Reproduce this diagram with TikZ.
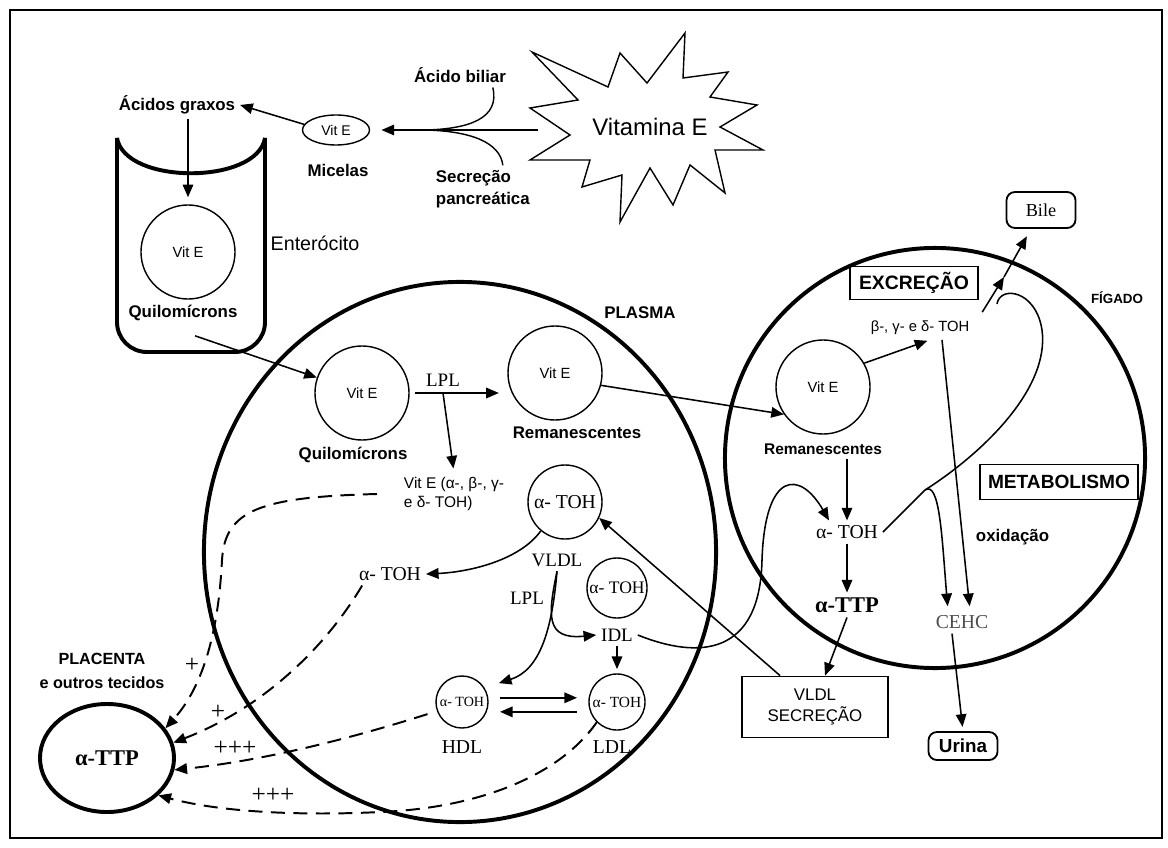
\documentclass[tikz,border=0pt]{standalone}
\usepackage{fontspec}
\setmainfont{Liberation Sans}
\newfontfamily\timesfont{Liberation Serif}
\usetikzlibrary{arrows.meta,positioning,shapes.geometric,calc}
\tikzset{
  arr/.style={-{Triangle[length=9pt,width=7.5pt]},line width=1.1pt,#1},
  arr/.default=black,
  dasharr/.style={-{Triangle[length=9pt,width=7.5pt]},line width=1.4pt,
                  dash pattern=on 10pt off 6pt},
  vesicle/.style={circle,draw,line width=1pt,minimum size=#1,inner sep=0pt,
                  font=\fontsize{10.5}{12}\selectfont},
  vesicle/.default=2.35cm,
  organ/.style={draw,line width=2.8pt,inner sep=0pt},
  tagbox/.style={rectangle,draw,line width=1.3pt,align=center},
}

\begin{document}
\begin{tikzpicture}[
        x=0.025cm, y=-0.025cm,
        bsans/.style={font=\bfseries\fontsize{12}{15.5}\selectfont},
        serif/.style={font=\timesfont\fontsize{13.5}{16}\selectfont},
        plus/.style={font=\timesfont\fontsize{18}{20}\selectfont}
      ]
        \useasboundingbox (0,0) rectangle (1168,847);
        \draw[line width=1.5pt] (10,10) rectangle (1162,838);

        % Plasma and liver
        \node[organ, ellipse, minimum width=12.8cm, minimum height=13.5cm] (plasma) at (460,552) {};
        \node[organ, circle, minimum size=10.5cm] (liver) at (935,458) {};

        % Vitamina E
        \draw[line width=1pt] (532,52) -- (608,87) -- (620,53) -- (647,83) -- (685,33)
          -- (683,78) -- (728,72) -- (710,97) -- (757,105) -- (720,127) -- (763,150)
          -- (715,150) -- (725,193) -- (690,165) -- (673,205) -- (650,168) -- (620,222)
          -- (622,175) -- (582,187) -- (590,160) -- (530,160) -- (570,135) -- (530,108)
          -- (578,100) -- cycle;
        \node[font=\fontsize{17}{20}\selectfont] (vitE) at (650,127) {Vitamina E};
        \coordinate (starW) at (538,130);
        \coordinate (merge) at (425,130);

        % Micelas
        \node[ellipse, draw, line width=1pt, minimum width=1.675cm, minimum height=0.75cm,
              inner sep=0pt, font=\fontsize{10}{12}\selectfont] (mic) at (336,130) {Vit E};
        \node[bsans] (miclbl) at (338,170) {Micelas};
        \draw[arr, shorten >=8pt] (starW) -- (mic.east);
        \node[bsans] (ab) at (460,75) {Ácido biliar};
        \node[bsans, align=left, anchor=west] (sp) at (431,189) {Secreção\\pancreática};
        \draw[line width=1pt] ([xshift=0.82cm]ab.south) .. controls (500,118) and (470,129) .. (merge);
        \draw[line width=1pt] ([xshift=0.5cm]sp.north) .. controls (500,142) and (470,131) .. (merge);

        % Enterocito
        \node[bsans] (ag) at (177,105) {Ácidos graxos};
        \draw[arr] (mic.170) -- (ag.east);
        \draw[organ, rounded corners=0.75cm] (117,138) -- (117,352) -- (265,352) -- (265,138);
        \draw[organ] (117,138) .. controls (125,185) and (257,185) .. (265,138);
        \node[vesicle] (entvit) at (188,252) {Vit E};
        \draw[arr, shorten >=5pt] (ag.south -| entvit.north) -- (entvit.north);
        \node[font=\fontsize{14}{16}\selectfont] (entlbl) at (315,243) {Enterócito};
        \node[bsans] (entq) at (183,313) {Quilomícrons};

        % Plasma content
        \node[bsans] (plasmalbl) at (640,313) {PLASMA};
        \node[vesicle] (qm) at (362,393) {Vit E};
        \node[bsans] (qmlbl) at (353,455) {Quilomícrons};
        \draw[arr] ([xshift=0.3cm,yshift=-0.25cm]entq.south) -- (qm);
        \node[serif] (lpl1) at (443,380) {LPL};
        \node[vesicle] (rem) at (555,373) {Vit E};
        \node[bsans] (remlbl) at (577,433) {Remanescentes};
        \draw[arr, shorten <=4pt, shorten >=6pt] (qm.east) -- (qm.east -| rem.west);
        \node[font=\fontsize{11}{13}\selectfont, align=left, anchor=west] (vitmix) at (399,494)
          {Vit E (α-, β-, γ-\\e δ- TOH)};
        \draw[arr, shorten >=3pt] (lpl1 |- qm.east) -- (vitmix.north);

        \node[vesicle=1.85cm, font=\timesfont\fontsize{14}{16}\selectfont] (vldl) at (565,502) {α- TOH};
        \node[serif] (vldllbl) at (557,560) {VLDL};
        \node[font=\timesfont\fontsize{14}{16}\selectfont] (atoh) at (390,574) {α- TOH};
        \draw[arr] (vldl.-130) .. controls (520,560) and (470,572) .. (atoh.east);
        \node[serif] (lpl2) at (527,598) {LPL};
        \node[vesicle=1.5cm, font=\timesfont\fontsize{12.5}{15}\selectfont] (idl) at (617,588) {α- TOH};
        \node[serif] (idllbl) at (617,635) {IDL};
        \node[vesicle=1.3cm, font=\timesfont\fontsize{10}{12}\selectfont] (hdl) at (462,702) {α- TOH};
        \node[font=\timesfont\fontsize{14}{16}\selectfont] (hdllbl) at (462,747) {HDL};
        \node[vesicle=1.4cm, font=\timesfont\fontsize{11}{13}\selectfont] (ldl) at (617,702) {α- TOH};
        \node[font=\timesfont\fontsize{14}{16}\selectfont] (ldllbl) at (612,747) {LDL};
        \draw[arr] (vldllbl.south) .. controls (548,615) and (545,640) .. (idllbl.west);
        \draw[arr] (vldllbl.south) .. controls (552,630) and (540,670) .. ([xshift=0.45cm]hdl.north east);
        \draw[arr, shorten >=3pt] (idllbl.south) -- (ldl.north);
        \draw[arr, shorten <=8pt, shorten >=8pt] ([yshift=3pt]hdl.east) -- ([yshift=3pt]ldl.west);
        \draw[arr, shorten <=8pt, shorten >=8pt] ([yshift=-7pt]ldl.west) -- ([yshift=-7pt]hdl.east);

        % VLDL secrecao
        \node[tagbox, minimum width=3.65cm, minimum height=1.525cm,
              font=\fontsize{12}{15}\selectfont] (vsec) at (815,707) {VLDL\\SECREÇÃO};
        \draw[arr] ([xshift=-0.875cm]vsec.north) -- (vldl.-25);

        % Liver content
        \node[tagbox, font=\bfseries\fontsize{13.8}{16}\selectfont, minimum width=3.2cm,
              minimum height=0.825cm] (excr) at (914,283) {EXCREÇÃO};
        \node[font=\bfseries\fontsize{9.5}{11}\selectfont] (fig) at (1117,298) {FÍGADO};
        \node[font=\fontsize{10.5}{12}\selectfont] (btoh) at (920,328) {β-, γ- e δ- TOH};
        \node[vesicle] (lvit) at (823,387) {Vit E};
        \node[font=\bfseries\fontsize{11}{13}\selectfont] (lremlbl) at (823,449) {Remanescentes};
        \draw[arr] (rem.-15) -- (lvit.215);
        \draw[arr, shorten >=2pt] (lvit.30) -- ([xshift=0.25cm]btoh.south);
        \node[font=\timesfont\fontsize{14}{16}\selectfont] (latoh) at (847,532) {α- TOH};
        \draw[arr] (lremlbl.south -| latoh.north) -- (latoh.north);
        \node[font=\timesfont\bfseries\fontsize{16}{18}\selectfont] (lttp) at (847,605) {α-TTP};
        \draw[arr] (latoh.south) -- (lttp.north);
        \draw[arr] (lttp.south) -- ([xshift=0.25cm]vsec.north);
        \draw[arr] (idllbl.east) .. controls (700,660) and (760,655) .. (762,560)
          .. controls (765,470) and (800,470) .. ([xshift=-0.45cm]latoh.north);

        \node[tagbox, font=\bfseries\fontsize{13.6}{16}\selectfont, minimum width=3.95cm,
              minimum height=0.875cm] (metab) at (1059,482) {METABOLISMO};
        \node[font=\bfseries\fontsize{12}{14}\selectfont, anchor=west] (oxid) at (971,537) {oxidação};
        \node[font=\timesfont\fontsize{14}{16}\selectfont, text=black!70] (cehc) at (962,622) {CEHC};
        \coordinate (branch) at (925,490);
        \draw[line width=1.1pt] (latoh.east) -- (branch);
        \draw[arr, shorten >=3pt] (branch) .. controls (940,480) and (942,540) .. ([xshift=-0.35cm]cehc.north);
        \coordinate (join) at (997,304);
        \draw[line width=1.1pt] (branch) .. controls (980,455) and (1050,390) .. (1042,330)
          .. controls (1036,290) and (1000,285) .. (join);

        % Bile and Urina
        \node[draw, rounded corners=6pt, line width=1.3pt, minimum width=1.725cm, minimum height=0.9cm,
              font=\timesfont\fontsize{13}{15}\selectfont] (bile) at (1041,210) {Bile};
        \coordinate (btohtop) at ([xshift=0.2cm,yshift=0.1cm]btoh.north east);
        \coordinate (bilemid) at (1004,277);
        \draw[arr] (btohtop) -- (bilemid);
        \draw[arr, shorten >=6pt] (bilemid) -- ([xshift=-0.25cm]bile.south);
        \draw[arr, shorten >=3pt] ([xshift=0.55cm]btoh.south) -- ([xshift=0.2cm]cehc.north);
        \node[draw, rounded corners=6pt, line width=1.3pt, minimum width=1.725cm, minimum height=0.7cm,
              font=\bfseries\fontsize{13.4}{15}\selectfont] (urina) at (963,746) {Urina};
        \draw[arr, shorten >=3pt] ([xshift=-0.25cm]cehc.south) -- (urina.north);

        % Placenta
        \node[font=\bfseries\fontsize{11.5}{16.5}\selectfont, align=center] (plac) at (102,671)
          {PLACENTA\\e outros tecidos};
        \node[organ, ellipse, minimum width=3.35cm, minimum height=2.7cm,
              font=\timesfont\bfseries\fontsize{16}{18}\selectfont] (ttp) at (107,758) {α-TTP};

        % Dashed transfers to alpha-TTP
        \draw[dasharr] ([xshift=-0.55cm]vitmix.west) .. controls (260,497) and (225,510) .. (222,560)
          .. controls (218,640) and (200,690) .. (ttp.27);
        \draw[dasharr] ([xshift=0.2cm]atoh.south west) .. controls (330,640) and (270,705) .. (ttp.13);
        \draw[dasharr, shorten <=7pt] (hdl.200) .. controls (330,745) and (250,762) .. (ttp.-10);
        \draw[dasharr] (ldl.-135) .. controls (560,775) and (480,808) .. (380,812)
          .. controls (300,816) and (220,812) .. (ttp.-36);
        \node[plus] (p1) at (192,665) {+};
        \node[plus] (p2) at (218,712) {+};
        \node[plus] (p3) at (235,748) {+++};
        \node[plus] (p4) at (273,795) {+++};
\end{tikzpicture}
\end{document}
